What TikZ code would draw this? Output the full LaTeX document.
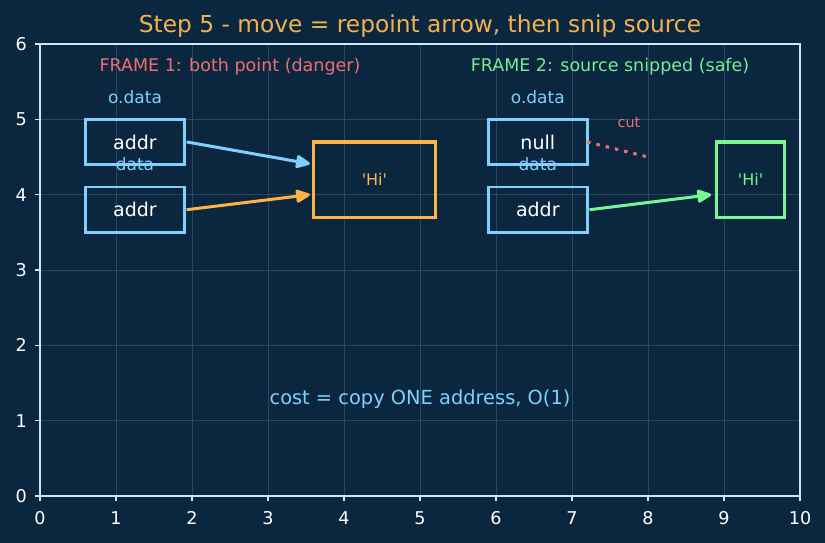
\documentclass[tikz,border=0pt]{standalone}
\usepackage{fontspec}
\setmainfont{DejaVu Sans}[Ligatures=TeXOff]
\usetikzlibrary{calc,arrows.meta}
\definecolor{bg}{HTML}{0B2740}
\definecolor{spine}{HTML}{D0E6F7}
\definecolor{boxblue}{HTML}{7FD0FF}
\definecolor{hiorange}{HTML}{FFB347}
\definecolor{higreen}{HTML}{77F597}
\definecolor{cutred}{HTML}{EE6E72}
\definecolor{titleor}{HTML}{F2B14E}
\definecolor{safegreen}{HTML}{77EE92}
\tikzset{
  boxnode/.style={draw=boxblue, line width=2.7pt, minimum width=98.8pt, minimum height=45.2pt, inner sep=0pt, text=white, font=\fontsize{19}{22}\selectfont},
  lbl/.style={inner sep=0pt, text=boxblue, font=\fontsize{17}{20}\selectfont},
  framelbl/.style={inner sep=0pt, font=\fontsize{17.5}{20}\selectfont},
  hibox/.style={line width=3.2pt, minimum height=75.33pt, inner sep=0pt, font=\fontsize{16}{19}\selectfont},
  arr/.style={line width=3pt, -{Triangle[length=16pt,width=14pt,round]}},
  ticklbl/.style={inner sep=0pt, text=white, font=\fontsize{17.6}{20}\selectfont},
  gridline/.style={draw=spine!16!bg, line width=0.8pt},
}
\begin{document}
\begin{tikzpicture}[x=76pt,y=75.333pt]
  % background and bounding box
  \fill[bg] (-0.52632,-0.62389) rectangle (10.32895,6.58407);
  \useasboundingbox (-0.52632,-0.62389) rectangle (10.32895,6.58407);
  % grid
  \foreach \gx in {1,...,9} \draw[gridline] (\gx,0) -- (\gx,6);
  \foreach \gy in {1,...,5} \draw[gridline] (0,\gy) -- (10,\gy);
  % spines
  \draw[spine, line width=1.8pt] (0,0) rectangle (10,6);
  % ticks and labels
  \foreach \gx in {0,...,10} {
    \draw[spine, line width=1.4pt] (\gx,0) -- ++(0,-5pt);
    \node[ticklbl, anchor=north] (xt\gx) at ($(\gx,0)+(0,-15.5pt)$) {\gx};
  }
  \foreach \gy in {0,...,6} {
    \draw[spine, line width=1.4pt] (0,\gy) -- ++(-5pt,0);
    \node[ticklbl, anchor=east] (yt\gy) at ($(0,\gy)+(-13pt,0)$) {\gy};
  }
  % title
  \node[inner sep=0pt, text=titleor, font=\fontsize{23.3}{27}\selectfont] (title) at (5,6.238) {Step 5 - move = repoint arrow, then snip source};
  % frame labels
  \node[framelbl, text=cutred] (f1) at (2.5,5.7) {FRAME 1: both point (danger)};
  \node[framelbl, text=safegreen] (f2) at (7.5,5.7) {FRAME 2: source snipped (safe)};
  % frame 1
  \node[boxnode] (a1) at (1.25,4.7) {addr};
  \node[boxnode] (b1) at (1.25,3.8) {addr};
  \node[lbl] (l1) at (1.25,5.3) {o.data};
  \node[lbl] (d1) at (1.25,4.4) {data};
  \node[hibox, draw=hiorange, text=hiorange, minimum width=121.6pt] (hi1) at (4.4,4.2) {'Hi'};
  \draw[arr, boxblue] ($(a1.center)+(0.68,0)$) -- ($(hi1.center)+(-0.85,0.21)$);
  \draw[arr, hiorange] ($(b1.center)+(0.68,0)$) -- ($(hi1.center)+(-0.85,-0.2)$);
  % frame 2
  \node[boxnode] (n2) at (6.55,4.7) {null};
  \node[boxnode] (b2) at (6.55,3.8) {addr};
  \node[lbl] (l2) at (6.55,5.3) {o.data};
  \node[lbl] (d2) at (6.55,4.4) {data};
  \node[hibox, draw=higreen, text=higreen, minimum width=68.4pt] (hi2) at (9.35,4.2) {'Hi'};
  \coordinate (cutend) at (8.0,4.5);
  \draw[cutred, line width=3pt, dash pattern=on 3.5pt off 6pt] ($(n2.center)+(0.65,0)$) -- (cutend);
  \node[inner sep=0pt, text=cutred, font=\fontsize{14.4}{17}\selectfont] (cut) at (7.75,4.96) {cut};
  \draw[arr, higreen] ($(b2.center)+(0.68,0)$) -- ($(hi2.center)+(-0.52,-0.2)$);
  % cost
  \node[inner sep=0pt, text=boxblue, font=\fontsize{19.4}{23}\selectfont] (cost) at (5,1.29) {cost = copy ONE address, O(1)};
\end{tikzpicture}
\end{document}
